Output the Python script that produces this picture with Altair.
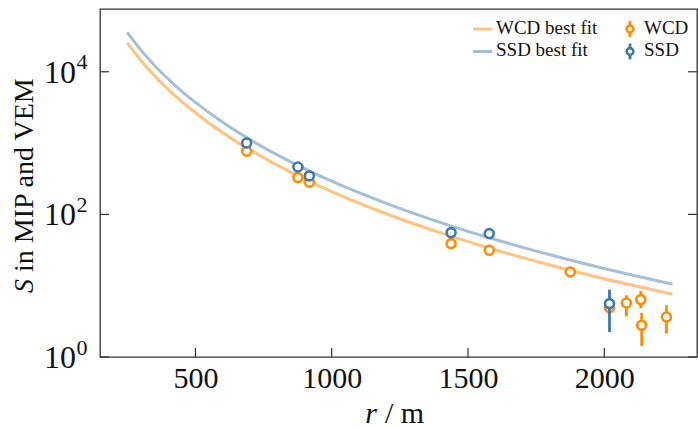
import altair as alt
import pandas as pd

# ---- data ----
fit_r = [250, 300, 350, 400, 450, 500, 600, 700, 800, 1000, 1200, 1400, 1600, 1800, 2000, 2250]
fit_wcd = [25500, 14400, 8800, 5660, 3810, 2660, 1400, 803, 490, 209, 102, 55, 31.8, 19.5, 12.5, 7.6]
fit_ssd = [35600, 20100, 12270, 7910, 5320, 3715, 1956, 1122, 684, 292, 143, 76.8, 44.4, 27.2, 17.4, 10.5]

wcd_r = [688, 876, 918, 1438, 1578, 1875, 2019, 2081, 2134, 2137, 2228]
wcd_s = [767, 328, 282, 38.9, 31.4, 15.6, 4.93, 5.72, 6.38, 2.78, 3.64]
wcd_lo = [730, 312, 268, 37.0, 29.8, 13.8, 4.0, 3.72, 4.82, 1.43, 2.13]
wcd_hi = [805, 345, 297, 41.0, 33.2, 17.2, 6.0, 7.33, 8.43, 4.14, 5.31]

ssd_r = [688, 876, 918, 1438, 1578, 2019]
ssd_s = [1003, 462, 346, 55.6, 53.8, 5.61]
ssd_lo = [960, 445, 333, 53.0, 51.0, 2.24]
ssd_hi = [1050, 480, 360, 58.5, 56.5, 8.81]

x_ticks = [500, 1000, 1500, 2000]
y_ticks = [1, 100, 10000]
y_tick_base = ["10", "10", "10"]
y_tick_exp = ["0", "2", "4"]

ORANGE = "#ff8c00"
BLUE = "#3d79b0"
ORANGE_L = "#ffc27f"
BLUE_L = "#a3bfd9"
FONT = "Liberation Serif"
W, H = 597, 348

fit_df = pd.DataFrame({"r": fit_r, "wcd": fit_wcd, "ssd": fit_ssd})
wcd_df = pd.DataFrame({"r": wcd_r, "s": wcd_s, "lo": wcd_lo, "hi": wcd_hi})
ssd_df = pd.DataFrame({"r": ssd_r, "s": ssd_s, "lo": ssd_lo, "hi": ssd_hi})
xt_df = pd.DataFrame({"r": x_ticks})
yt_df = pd.DataFrame({"s": y_ticks, "base": y_tick_base, "exp": y_tick_exp})
one = pd.DataFrame({"k": [0]})

xscale = alt.Scale(domain=[150, 2340], nice=False, zero=False)
yscale = alt.Scale(type="log", domain=[1, 75900], nice=False)

xaxis = alt.Axis(values=x_ticks, format="d", title=None, grid=False, domain=False, ticks=False, tickSize=0,
                 labelFont=FONT, labelFontSize=30, labelColor="#111", labelPadding=6, labelFlush=False)
yaxis = alt.Axis(values=y_ticks, title=None, grid=False, domain=False, ticks=False, tickSize=0,
                 labels=False)

X = alt.X("r:Q", scale=xscale, axis=xaxis)

line_w = alt.Chart(fit_df).mark_line(color=ORANGE_L, strokeWidth=3, interpolate="monotone").encode(
    x=X, y=alt.Y("wcd:Q", scale=yscale, axis=yaxis))
line_s = alt.Chart(fit_df).mark_line(color=BLUE_L, strokeWidth=3, interpolate="monotone").encode(
    x="r:Q", y=alt.Y("ssd:Q", scale=yscale))


def pts(df, color):
    err = alt.Chart(df).mark_rule(color=color, strokeWidth=2.8).encode(
        x="r:Q", y=alt.Y("lo:Q", scale=yscale), y2="hi:Q")
    dots = alt.Chart(df).mark_point(shape="circle", filled=False, fill="white", fillOpacity=1,
                                     stroke=color, strokeWidth=2.6, size=80, opacity=1).encode(
        x="r:Q", y=alt.Y("s:Q", scale=yscale))
    return [err, dots]


# inner ticks (bottom, left, right)
tick_col = "#333"
xt_bot = alt.Chart(xt_df).mark_rule(color=tick_col, strokeWidth=1.2).encode(
    x="r:Q", y=alt.value(H), y2=alt.value(H - 9))
yt_left = alt.Chart(yt_df).mark_rule(color=tick_col, strokeWidth=1.2).encode(
    y=alt.Y("s:Q", scale=yscale), x=alt.value(0), x2=alt.value(9))
yt_right = alt.Chart(yt_df).mark_rule(color=tick_col, strokeWidth=1.2).encode(
    y=alt.Y("s:Q", scale=yscale), x=alt.value(W - 9), x2=alt.value(W))

# y tick labels as 10^n
yl_base = alt.Chart(yt_df).mark_text(font=FONT, fontSize=32, color="#111", align="right",
                                     baseline="alphabetic", dy=11).encode(
    y=alt.Y("s:Q", scale=yscale), x=alt.value(-24), text="base:N")
yl_exp = alt.Chart(yt_df).mark_text(font=FONT, fontSize=22, color="#111", align="left",
                                    baseline="alphabetic", dy=-2.5).encode(
    y=alt.Y("s:Q", scale=yscale), x=alt.value(-23.5), text="exp:N")


def txt(t, x, y, size, italic=False, angle=0, align="left"):
    kw = dict(text=t, font=FONT, fontSize=size, color="#111", align=align, baseline="alphabetic")
    if italic:
        kw["fontStyle"] = "italic"
    if angle:
        kw["angle"] = angle
    return alt.Chart(one).mark_text(**kw).encode(x=alt.value(x), y=alt.value(y))


titles = [
    txt("r", 277, 414, 30, italic=True, align="right"),
    txt("/ m", 285, 414, 30),
    txt("S", -67, 284, 28, italic=True, angle=270),
    txt("in MIP and VEM", -67, 263, 28, angle=270),
]

# legend
leg = [
    alt.Chart(one).mark_rule(color=ORANGE_L, strokeWidth=3).encode(
        x=alt.value(373), x2=alt.value(392), y=alt.value(20)),
    alt.Chart(one).mark_rule(color=BLUE_L, strokeWidth=3).encode(
        x=alt.value(373), x2=alt.value(392), y=alt.value(42.5)),
    txt("WCD best fit", 396, 24.5, 19),
    txt("SSD best fit", 396, 46.5, 19),
    alt.Chart(one).mark_rule(color=ORANGE, strokeWidth=2.8).encode(
        x=alt.value(530), y=alt.value(12), y2=alt.value(28)),
    alt.Chart(one).mark_point(shape="circle", filled=False, fill="white", fillOpacity=1,
                              stroke=ORANGE, strokeWidth=2.6, size=45, opacity=1).encode(
        x=alt.value(530), y=alt.value(20)),
    alt.Chart(one).mark_rule(color=BLUE, strokeWidth=2.8).encode(
        x=alt.value(530), y=alt.value(34.5), y2=alt.value(50.5)),
    alt.Chart(one).mark_point(shape="circle", filled=False, fill="white", fillOpacity=1,
                              stroke=BLUE, strokeWidth=2.6, size=45, opacity=1).encode(
        x=alt.value(530), y=alt.value(42.5)),
    txt("WCD", 544, 24.5, 19),
    txt("SSD", 544, 46.5, 19),
]

chart = alt.layer(
    line_w, line_s,
    *pts(wcd_df, ORANGE), *pts(ssd_df, BLUE),
    xt_bot, yt_left, yt_right, yl_base, yl_exp,
    *titles, *leg,
).properties(
    width=W, height=H,
    autosize=alt.AutoSizeParams(type="none"),
    padding={"left": 100, "top": 9, "right": 1, "bottom": 71},
    background="white",
).configure_view(
    stroke="#333", strokeWidth=1.3
)

chart.save("out.html", embed_options={"renderer": "svg", "actions": False})
